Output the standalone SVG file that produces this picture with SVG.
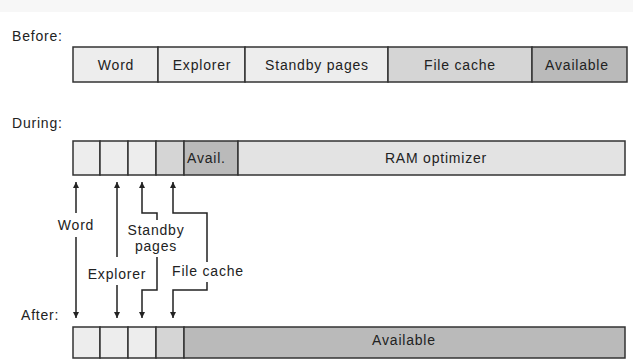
<svg xmlns="http://www.w3.org/2000/svg" width="633" height="359" viewBox="0 0 633 359">
<style>
  text { font-family: "Liberation Sans", Arial, sans-serif; font-size: 14px; fill: #222; letter-spacing: 0.8px; }
  .c { text-anchor: middle; }
  .cell { stroke: #333; stroke-width: 1.5; }
  .l1 { fill: #ededed; }
  .l2 { fill: #d5d5d5; }
  .l3 { fill: #bababa; }
  .l4 { fill: #e3e3e3; }
  .conn { fill: none; stroke: #222; stroke-width: 1.5; }
</style>
<defs>
  <marker id="ah" viewBox="0 0 8 8" refX="8" refY="4" markerWidth="7" markerHeight="6" orient="auto" markerUnits="userSpaceOnUse">
    <path d="M0,0 L8,4 L0,8 z" fill="#222"/>
  </marker>
</defs>
<rect x="0" y="0" width="633" height="12" fill="#f7f7f7"/>
<rect x="0" y="12" width="633" height="347" fill="#ffffff"/>

<text x="12" y="41">Before:</text>
<text x="12" y="128">During:</text>
<text x="21" y="320">After:</text>

<g id="before">
  <rect class="cell l1" x="73" y="47" width="85" height="35"/>
  <rect class="cell l1" x="158" y="47" width="87" height="35"/>
  <rect class="cell l1" x="245" y="47" width="143" height="35"/>
  <rect class="cell l2" x="388" y="47" width="144" height="35"/>
  <rect class="cell l3" x="532" y="47" width="95" height="35"/>
  <text class="c" x="116" y="70">Word</text>
  <text class="c" x="202" y="70">Explorer</text>
  <text class="c" x="317" y="70">Standby pages</text>
  <text class="c" x="460" y="70">File cache</text>
  <text class="c" x="577" y="70">Available</text>
</g>

<g id="during">
  <rect class="cell l1" x="73" y="141" width="27" height="34"/>
  <rect class="cell l1" x="100" y="141" width="28" height="34"/>
  <rect class="cell l1" x="128" y="141" width="28" height="34"/>
  <rect class="cell l2" x="156" y="141" width="28" height="34"/>
  <rect class="cell l3" x="184" y="141" width="54" height="34"/>
  <rect class="cell l4" x="238" y="141" width="387" height="34"/>
  <text x="187" y="163">Avail.</text>
  <text class="c" x="436" y="163">RAM optimizer</text>
</g>

<g id="after">
  <rect class="cell l1" x="73" y="327" width="27" height="31"/>
  <rect class="cell l1" x="100" y="327" width="28" height="31"/>
  <rect class="cell l1" x="128" y="327" width="28" height="31"/>
  <rect class="cell l2" x="156" y="327" width="28" height="31"/>
  <rect class="cell l3" x="184" y="327" width="441" height="31"/>
  <text class="c" x="404" y="345">Available</text>
</g>

<g id="labels">
  <text class="c" x="76" y="230">Word</text>
  <text class="c" x="117" y="279">Explorer</text>
  <text class="c" x="156" y="235">Standby</text>
  <text class="c" x="156" y="251">pages</text>
  <text class="c" x="208" y="276">File cache</text>
</g>

<g id="connectors">
  <path class="conn" d="M76,213 V182" marker-end="url(#ah)"/>
  <path class="conn" d="M76,237 V318" marker-end="url(#ah)"/>
  <path class="conn" d="M117,257 V182" marker-end="url(#ah)"/>
  <path class="conn" d="M117,285 V318" marker-end="url(#ah)"/>
  <path class="conn" d="M157,220 V213 H142 V182" marker-end="url(#ah)"/>
  <path class="conn" d="M157,257 V290 H142 V318" marker-end="url(#ah)"/>
  <path class="conn" d="M207,262 V213 H173 V182" marker-end="url(#ah)"/>
  <path class="conn" d="M207,282 V290 H173 V318" marker-end="url(#ah)"/>
</g>
</svg>
